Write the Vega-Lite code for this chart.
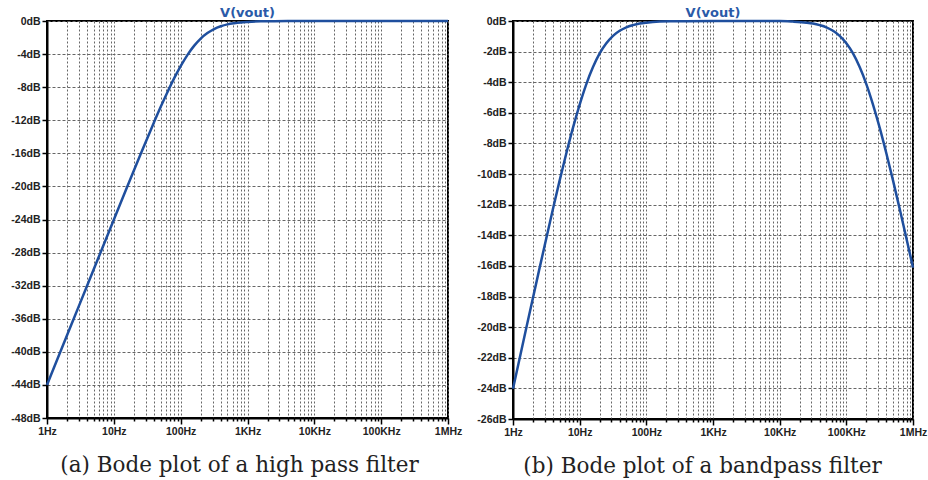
{
  "$schema": "https://vega.github.io/schema/vega-lite/v6.json",
  "background": "white",
  "padding": {"left": 9, "top": 6, "right": 5, "bottom": 1},
  "datasets": {
    "hp": [
      {"f": 1, "db": -44.0}, {"f": 1.585, "db": -40.0}, {"f": 2.512, "db": -36.0}, {"f": 3.981, "db": -32.0},
      {"f": 6.31, "db": -28.01}, {"f": 10, "db": -24.02}, {"f": 15.85, "db": -20.04}, {"f": 25.12, "db": -16.11},
      {"f": 39.81, "db": -12.27}, {"f": 50.12, "db": -10.41}, {"f": 63.1, "db": -8.64}, {"f": 79.43, "db": -6.97},
      {"f": 100, "db": -5.46}, {"f": 125.9, "db": -4.12}, {"f": 158.5, "db": -3.01}, {"f": 199.5, "db": -2.12},
      {"f": 251.2, "db": -1.46}, {"f": 316.2, "db": -0.97}, {"f": 398.1, "db": -0.64}, {"f": 501.2, "db": -0.41},
      {"f": 631, "db": -0.27}, {"f": 794.3, "db": -0.17}, {"f": 1000, "db": -0.11}, {"f": 1585, "db": -0.04},
      {"f": 2512, "db": -0.02}, {"f": 3981, "db": -0.01}, {"f": 10000, "db": 0}, {"f": 100000, "db": 0},
      {"f": 1000000, "db": 0}
    ],
    "bp": [
      {"f": 1, "db": -24.02}, {"f": 1.585, "db": -20.04}, {"f": 2.512, "db": -16.11}, {"f": 3.981, "db": -12.27},
      {"f": 5.012, "db": -10.41}, {"f": 6.31, "db": -8.64}, {"f": 7.943, "db": -6.97}, {"f": 10, "db": -5.46},
      {"f": 12.59, "db": -4.12}, {"f": 15.85, "db": -3.01}, {"f": 19.95, "db": -2.12}, {"f": 25.12, "db": -1.46},
      {"f": 31.62, "db": -0.97}, {"f": 39.81, "db": -0.64}, {"f": 50.12, "db": -0.41}, {"f": 63.1, "db": -0.27},
      {"f": 79.43, "db": -0.17}, {"f": 100, "db": -0.11}, {"f": 158.5, "db": -0.04}, {"f": 251.2, "db": -0.02},
      {"f": 398.1, "db": -0.01}, {"f": 1000, "db": 0}, {"f": 10000, "db": 0}, {"f": 15850, "db": -0.04},
      {"f": 25120, "db": -0.11}, {"f": 31620, "db": -0.17}, {"f": 39810, "db": -0.27}, {"f": 50120, "db": -0.41},
      {"f": 63100, "db": -0.64}, {"f": 79430, "db": -0.97}, {"f": 100000, "db": -1.46}, {"f": 125900, "db": -2.12},
      {"f": 158500, "db": -3.01}, {"f": 199500, "db": -4.12}, {"f": 251200, "db": -5.46}, {"f": 316200, "db": -6.97},
      {"f": 398100, "db": -8.64}, {"f": 501200, "db": -10.41}, {"f": 631000, "db": -12.27}, {"f": 794300, "db": -14.17},
      {"f": 1000000, "db": -16.11}
    ]
  },
  "spacing": 65,
  "bounds": "flush",
  "hconcat": [
    {
      "width": 401,
      "height": 397,
      "title": {"text": "V(vout)"},
      "data": {"name": "hp"},
      "mark": {"type": "line", "color": "#1f4f9e", "strokeWidth": 2.5, "interpolate": "monotone"},
      "encoding": {
        "x": {
          "field": "f", "type": "quantitative",
          "scale": {"type": "log", "domain": [1, 1000000], "nice": false},
          "axis": {"title": "(a) Bode plot of a high pass filter", "titleX": 192}
        },
        "y": {
          "field": "db", "type": "quantitative",
          "scale": {"domain": [-48, 0], "nice": false},
          "axis": {"title": null, "values": [0, -4, -8, -12, -16, -20, -24, -28, -32, -36, -40, -44, -48]}
        }
      }
    },
    {
      "width": 400,
      "height": 398,
      "title": {"text": "V(vout)"},
      "data": {"name": "bp"},
      "mark": {"type": "line", "color": "#1f4f9e", "strokeWidth": 2.5, "interpolate": "monotone"},
      "encoding": {
        "x": {
          "field": "f", "type": "quantitative",
          "scale": {"type": "log", "domain": [1, 1000000], "nice": false},
          "axis": {"title": "(b) Bode plot of a bandpass filter", "titleX": 189}
        },
        "y": {
          "field": "db", "type": "quantitative",
          "scale": {"domain": [-26, 0], "nice": false},
          "axis": {"title": null, "values": [0, -2, -4, -6, -8, -10, -12, -14, -16, -18, -20, -22, -24, -26]}
        }
      }
    }
  ],
  "config": {
    "view": {"stroke": "black", "strokeWidth": 2},
    "title": {"font": "DejaVu Sans", "fontSize": 13, "fontWeight": "bold", "color": "#2a5aa8", "offset": 0, "dy": 8, "anchor": "middle"},
    "axis": {
      "grid": true,
      "gridDash": [2, 2],
      "gridColor": "#666666",
      "gridWidth": 1,
      "domainColor": "black",
      "domainWidth": 2,
      "tickColor": "black",
      "tickWidth": 1.5,
      "tickSize": 5,
      "labelFont": "Liberation Sans",
      "labelFontSize": 10.5,
      "labelFontWeight": "bold",
      "labelColor": "#222222",
      "labelPadding": 2,
      "titleFont": "DejaVu Serif",
      "titleFontSize": 21.5,
      "titleFontWeight": "normal",
      "titleColor": "#222222"
    },
    "axisX": {
      "values": [1,2,3,4,5,6,7,8,9,10,20,30,40,50,60,70,80,90,100,200,300,400,500,600,700,800,900,1000,2000,3000,4000,5000,6000,7000,8000,9000,10000,20000,30000,40000,50000,60000,70000,80000,90000,100000,200000,300000,400000,500000,600000,700000,800000,900000,1000000],
      "labelExpr": "datum.value==1?'1Hz':datum.value==10?'10Hz':datum.value==100?'100Hz':datum.value==1000?'1KHz':datum.value==10000?'10KHz':datum.value==100000?'100KHz':datum.value==1000000?'1MHz':''",
      "labelOverlap": false,
      "labelFlush": false,
      "tickSize": {"condition": {"test": "datum.value==1||datum.value==10||datum.value==100||datum.value==1000||datum.value==10000||datum.value==100000||datum.value==1000000", "value": 6}, "value": 3},
      "titlePadding": 18
    },
    "axisY": {
      "labelExpr": "datum.value + 'dB'",
      "gridDash": [3, 2]
    }
  }
}
